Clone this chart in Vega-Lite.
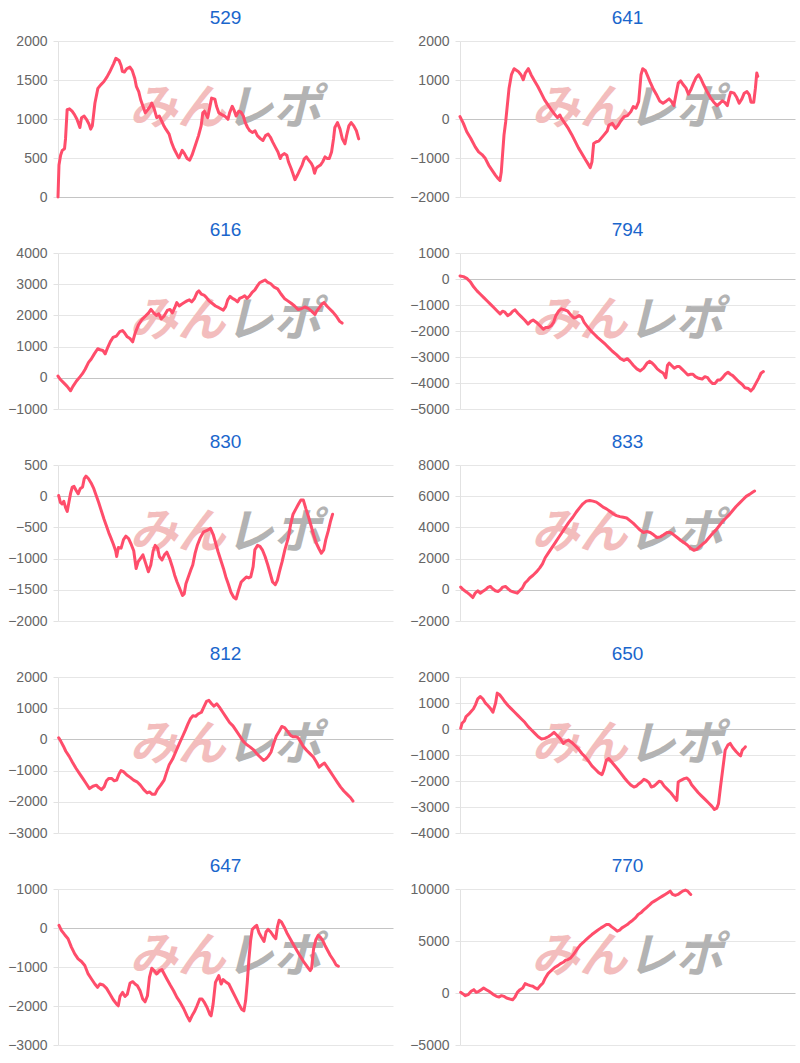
{
"$schema": "https://vega.github.io/schema/vega-lite/v6.json",
"background": "white",
"padding": {"left": 7, "top": 9, "right": 5, "bottom": 5},
"columns": 2,
"spacing": {"row": 17, "column": 16},
"config": {
  "view": {"stroke": null},
  "font": "Liberation Sans",
  "title": {"fontSize": 19, "fontWeight": "normal", "color": "#1a66cc", "offset": 6, "font": "Liberation Sans"},
  "axisY": {"labelFontSize": 14, "labelColor": "#666666", "labelFont": "Liberation Sans", "domainColor": "#e2e2e2", "tickColor": "#e2e2e2", "tickSize": 5, "labelPadding": 6, "title": null, "format": "d", "grid": true},
  "line": {"color": "#ff4d6b", "strokeWidth": 3, "strokeJoin": "round", "strokeCap": "round"},
  "text": {"font": "Noto Sans CJK JP", "fontSize": 48, "fontWeight": "bold", "fontStyle": "italic", "baseline": "middle"}
},
"datasets": {
"p529": [{"t":0,"v":0},{"t":3,"v":410},{"t":8,"v":536},{"t":13,"v":598},{"t":20,"v":619},{"t":23,"v":745},{"t":28,"v":1121},{"t":35,"v":1130},{"t":43,"v":1100},{"t":50,"v":1059},{"t":58,"v":996},{"t":67,"v":891},{"t":72,"v":1017},{"t":80,"v":1038},{"t":87,"v":996},{"t":95,"v":933},{"t":100,"v":870},{"t":105,"v":912},{"t":113,"v":1205},{"t":122,"v":1393},{"t":130,"v":1435},{"t":140,"v":1477},{"t":150,"v":1540},{"t":158,"v":1602},{"t":170,"v":1707},{"t":177,"v":1778},{"t":187,"v":1749},{"t":193,"v":1686},{"t":197,"v":1611},{"t":203,"v":1602},{"t":210,"v":1644},{"t":220,"v":1665},{"t":227,"v":1623},{"t":235,"v":1519},{"t":240,"v":1414},{"t":247,"v":1351},{"t":253,"v":1247},{"t":260,"v":1163},{"t":267,"v":1079},{"t":275,"v":1121},{"t":282,"v":1163},{"t":287,"v":1205},{"t":295,"v":1121},{"t":302,"v":1017},{"t":310,"v":1038},{"t":317,"v":975},{"t":323,"v":920},{"t":330,"v":870},{"t":340,"v":807},{"t":347,"v":703},{"t":355,"v":619},{"t":365,"v":536},{"t":370,"v":502},{"t":380,"v":598},{"t":387,"v":556},{"t":395,"v":494},{"t":403,"v":473},{"t":410,"v":536},{"t":420,"v":661},{"t":430,"v":787},{"t":438,"v":912},{"t":443,"v":1079},{"t":448,"v":1100},{"t":453,"v":1059},{"t":458,"v":1017},{"t":470,"v":1268},{"t":480,"v":1255},{"t":485,"v":1163},{"t":492,"v":1079},{"t":500,"v":1059},{"t":510,"v":1038},{"t":520,"v":996},{"t":525,"v":1079},{"t":533,"v":1163},{"t":538,"v":1121},{"t":545,"v":1038},{"t":553,"v":1100},{"t":560,"v":1088},{"t":567,"v":1038},{"t":573,"v":954},{"t":580,"v":891},{"t":587,"v":849},{"t":595,"v":828},{"t":603,"v":849},{"t":610,"v":787},{"t":620,"v":745},{"t":627,"v":724},{"t":635,"v":787},{"t":643,"v":807},{"t":650,"v":766},{"t":657,"v":703},{"t":665,"v":640},{"t":673,"v":577},{"t":680,"v":494},{"t":685,"v":536},{"t":693,"v":556},{"t":700,"v":536},{"t":705,"v":452},{"t":713,"v":368},{"t":720,"v":285},{"t":725,"v":222},{"t":733,"v":285},{"t":740,"v":347},{"t":747,"v":410},{"t":753,"v":485},{"t":760,"v":515},{"t":767,"v":473},{"t":775,"v":431},{"t":780,"v":389},{"t":785,"v":305},{"t":790,"v":368},{"t":795,"v":389},{"t":803,"v":410},{"t":810,"v":452},{"t":817,"v":515},{"t":823,"v":494},{"t":830,"v":494},{"t":837,"v":577},{"t":843,"v":745},{"t":847,"v":891},{"t":855,"v":954},{"t":863,"v":870},{"t":870,"v":745},{"t":878,"v":682},{"t":883,"v":787},{"t":890,"v":912},{"t":897,"v":954},{"t":905,"v":912},{"t":913,"v":849},{"t":920,"v":745}],
"p641": [{"t":0,"v":60},{"t":10,"v":-112},{"t":20,"v":-327},{"t":32,"v":-499},{"t":45,"v":-714},{"t":55,"v":-843},{"t":65,"v":-912},{"t":75,"v":-1015},{"t":85,"v":-1187},{"t":97,"v":-1342},{"t":105,"v":-1445},{"t":113,"v":-1531},{"t":118,"v":-1574},{"t":122,"v":-1359},{"t":130,"v":-413},{"t":135,"v":-69},{"t":145,"v":791},{"t":152,"v":1135},{"t":160,"v":1290},{"t":172,"v":1221},{"t":180,"v":1135},{"t":187,"v":1006},{"t":193,"v":1178},{"t":202,"v":1290},{"t":210,"v":1135},{"t":220,"v":980},{"t":230,"v":834},{"t":240,"v":662},{"t":250,"v":490},{"t":260,"v":361},{"t":270,"v":232},{"t":280,"v":120},{"t":288,"v":34},{"t":295,"v":103},{"t":300,"v":17},{"t":310,"v":-112},{"t":320,"v":-241},{"t":330,"v":-396},{"t":340,"v":-568},{"t":350,"v":-740},{"t":360,"v":-886},{"t":370,"v":-1032},{"t":378,"v":-1144},{"t":385,"v":-1247},{"t":390,"v":-1101},{"t":395,"v":-628},{"t":403,"v":-585},{"t":410,"v":-568},{"t":415,"v":-516},{"t":425,"v":-413},{"t":435,"v":-310},{"t":440,"v":-155},{"t":450,"v":-112},{"t":460,"v":-241},{"t":468,"v":-155},{"t":475,"v":-52},{"t":485,"v":60},{"t":495,"v":86},{"t":505,"v":189},{"t":512,"v":318},{"t":520,"v":275},{"t":528,"v":447},{"t":535,"v":1135},{"t":540,"v":1290},{"t":548,"v":1238},{"t":555,"v":1092},{"t":562,"v":946},{"t":570,"v":791},{"t":580,"v":636},{"t":590,"v":464},{"t":600,"v":404},{"t":610,"v":464},{"t":618,"v":516},{"t":625,"v":447},{"t":632,"v":344},{"t":638,"v":619},{"t":645,"v":920},{"t":652,"v":980},{"t":660,"v":877},{"t":668,"v":791},{"t":675,"v":636},{"t":682,"v":748},{"t":690,"v":920},{"t":698,"v":1066},{"t":705,"v":1135},{"t":712,"v":1032},{"t":720,"v":877},{"t":730,"v":705},{"t":740,"v":550},{"t":750,"v":430},{"t":760,"v":344},{"t":768,"v":404},{"t":775,"v":464},{"t":782,"v":430},{"t":790,"v":344},{"t":795,"v":533},{"t":800,"v":688},{"t":810,"v":662},{"t":818,"v":550},{"t":825,"v":404},{"t":833,"v":516},{"t":840,"v":662},{"t":848,"v":705},{"t":855,"v":619},{"t":860,"v":430},{"t":868,"v":430},{"t":873,"v":791},{"t":877,"v":1178},{"t":880,"v":1092}],
"p616": [{"t":0,"v":55},{"t":7,"v":-55},{"t":17,"v":-164},{"t":27,"v":-274},{"t":37,"v":-416},{"t":44,"v":-274},{"t":54,"v":-110},{"t":64,"v":22},{"t":72,"v":132},{"t":80,"v":274},{"t":90,"v":493},{"t":98,"v":603},{"t":107,"v":767},{"t":117,"v":932},{"t":124,"v":899},{"t":132,"v":877},{"t":139,"v":767},{"t":147,"v":986},{"t":154,"v":1151},{"t":162,"v":1293},{"t":172,"v":1337},{"t":182,"v":1480},{"t":190,"v":1513},{"t":197,"v":1425},{"t":204,"v":1315},{"t":212,"v":1260},{"t":220,"v":1151},{"t":227,"v":1425},{"t":237,"v":1699},{"t":247,"v":1863},{"t":257,"v":1973},{"t":267,"v":2082},{"t":274,"v":2192},{"t":282,"v":2082},{"t":290,"v":1995},{"t":297,"v":2050},{"t":304,"v":1885},{"t":312,"v":1973},{"t":322,"v":2159},{"t":330,"v":2192},{"t":337,"v":2082},{"t":344,"v":2247},{"t":350,"v":2411},{"t":357,"v":2302},{"t":364,"v":2356},{"t":372,"v":2411},{"t":380,"v":2466},{"t":387,"v":2499},{"t":394,"v":2433},{"t":402,"v":2543},{"t":410,"v":2740},{"t":415,"v":2784},{"t":422,"v":2685},{"t":430,"v":2652},{"t":437,"v":2576},{"t":445,"v":2466},{"t":454,"v":2389},{"t":464,"v":2302},{"t":474,"v":2247},{"t":487,"v":2170},{"t":494,"v":2280},{"t":500,"v":2499},{"t":507,"v":2609},{"t":514,"v":2543},{"t":522,"v":2499},{"t":529,"v":2433},{"t":535,"v":2543},{"t":542,"v":2576},{"t":550,"v":2630},{"t":557,"v":2543},{"t":565,"v":2630},{"t":572,"v":2740},{"t":580,"v":2817},{"t":587,"v":2937},{"t":594,"v":3047},{"t":602,"v":3091},{"t":610,"v":3135},{"t":617,"v":3069},{"t":627,"v":3014},{"t":637,"v":2904},{"t":647,"v":2850},{"t":657,"v":2685},{"t":667,"v":2543},{"t":677,"v":2466},{"t":687,"v":2389},{"t":697,"v":2302},{"t":707,"v":2192},{"t":717,"v":2214},{"t":727,"v":2269},{"t":737,"v":2225},{"t":747,"v":2137},{"t":757,"v":2028},{"t":762,"v":2137},{"t":770,"v":2247},{"t":777,"v":2356},{"t":784,"v":2411},{"t":792,"v":2302},{"t":800,"v":2214},{"t":810,"v":2104},{"t":820,"v":1973},{"t":830,"v":1808},{"t":837,"v":1754}],
"p794": [{"t":0,"v":117},{"t":10,"v":91},{"t":20,"v":26},{"t":30,"v":-104},{"t":40,"v":-300},{"t":50,"v":-456},{"t":60,"v":-587},{"t":70,"v":-717},{"t":80,"v":-848},{"t":90,"v":-978},{"t":100,"v":-1108},{"t":110,"v":-1239},{"t":118,"v":-1343},{"t":125,"v":-1239},{"t":132,"v":-1278},{"t":140,"v":-1408},{"t":148,"v":-1343},{"t":155,"v":-1239},{"t":162,"v":-1187},{"t":170,"v":-1317},{"t":180,"v":-1447},{"t":190,"v":-1578},{"t":200,"v":-1734},{"t":208,"v":-1630},{"t":215,"v":-1578},{"t":225,"v":-1669},{"t":235,"v":-1800},{"t":245,"v":-1930},{"t":252,"v":-1865},{"t":260,"v":-1865},{"t":268,"v":-1800},{"t":275,"v":-1669},{"t":282,"v":-1408},{"t":290,"v":-1239},{"t":298,"v":-1148},{"t":308,"v":-1187},{"t":317,"v":-1239},{"t":325,"v":-1369},{"t":335,"v":-1500},{"t":342,"v":-1474},{"t":350,"v":-1408},{"t":358,"v":-1474},{"t":365,"v":-1669},{"t":375,"v":-1839},{"t":385,"v":-1995},{"t":395,"v":-2126},{"t":405,"v":-2256},{"t":417,"v":-2386},{"t":428,"v":-2517},{"t":438,"v":-2647},{"t":448,"v":-2778},{"t":460,"v":-2908},{"t":472,"v":-3064},{"t":482,"v":-3130},{"t":492,"v":-3064},{"t":500,"v":-3169},{"t":510,"v":-3325},{"t":520,"v":-3456},{"t":530,"v":-3534},{"t":540,"v":-3430},{"t":550,"v":-3234},{"t":558,"v":-3169},{"t":565,"v":-3234},{"t":572,"v":-3325},{"t":580,"v":-3456},{"t":590,"v":-3560},{"t":598,"v":-3625},{"t":605,"v":-3795},{"t":610,"v":-3325},{"t":615,"v":-3234},{"t":622,"v":-3325},{"t":630,"v":-3430},{"t":638,"v":-3364},{"t":645,"v":-3364},{"t":652,"v":-3456},{"t":660,"v":-3560},{"t":670,"v":-3690},{"t":678,"v":-3664},{"t":685,"v":-3664},{"t":692,"v":-3756},{"t":702,"v":-3821},{"t":712,"v":-3847},{"t":720,"v":-3756},{"t":728,"v":-3795},{"t":735,"v":-3925},{"t":742,"v":-4016},{"t":750,"v":-4016},{"t":758,"v":-3886},{"t":765,"v":-3886},{"t":772,"v":-3795},{"t":780,"v":-3664},{"t":788,"v":-3586},{"t":795,"v":-3664},{"t":802,"v":-3717},{"t":810,"v":-3821},{"t":820,"v":-3951},{"t":830,"v":-4056},{"t":838,"v":-4186},{"t":848,"v":-4212},{"t":855,"v":-4303},{"t":862,"v":-4212},{"t":870,"v":-4016},{"t":878,"v":-3821},{"t":885,"v":-3625},{"t":892,"v":-3560}],
"p830": [{"t":2,"v":11},{"t":7,"v":-98},{"t":12,"v":-125},{"t":17,"v":-82},{"t":22,"v":-179},{"t":27,"v":-245},{"t":32,"v":-98},{"t":37,"v":49},{"t":42,"v":147},{"t":47,"v":158},{"t":52,"v":103},{"t":59,"v":38},{"t":65,"v":120},{"t":72,"v":147},{"t":77,"v":283},{"t":82,"v":321},{"t":89,"v":283},{"t":97,"v":212},{"t":105,"v":120},{"t":112,"v":11},{"t":119,"v":-98},{"t":127,"v":-234},{"t":135,"v":-370},{"t":142,"v":-478},{"t":149,"v":-587},{"t":155,"v":-668},{"t":162,"v":-766},{"t":169,"v":-875},{"t":172,"v":-967},{"t":177,"v":-821},{"t":185,"v":-832},{"t":192,"v":-696},{"t":199,"v":-641},{"t":207,"v":-679},{"t":215,"v":-777},{"t":222,"v":-875},{"t":229,"v":-1158},{"t":235,"v":-1049},{"t":242,"v":-995},{"t":249,"v":-940},{"t":257,"v":-1076},{"t":265,"v":-1212},{"t":272,"v":-1103},{"t":279,"v":-875},{"t":285,"v":-788},{"t":292,"v":-832},{"t":297,"v":-967},{"t":305,"v":-1022},{"t":312,"v":-940},{"t":319,"v":-897},{"t":327,"v":-995},{"t":335,"v":-1130},{"t":342,"v":-1266},{"t":349,"v":-1375},{"t":357,"v":-1484},{"t":365,"v":-1592},{"t":370,"v":-1565},{"t":375,"v":-1402},{"t":382,"v":-1294},{"t":389,"v":-1185},{"t":395,"v":-1103},{"t":402,"v":-913},{"t":409,"v":-777},{"t":417,"v":-668},{"t":427,"v":-571},{"t":437,"v":-549},{"t":447,"v":-516},{"t":455,"v":-614},{"t":462,"v":-750},{"t":469,"v":-886},{"t":477,"v":-1022},{"t":485,"v":-1158},{"t":492,"v":-1294},{"t":499,"v":-1402},{"t":507,"v":-1538},{"t":515,"v":-1620},{"t":522,"v":-1647},{"t":529,"v":-1511},{"t":537,"v":-1375},{"t":545,"v":-1332},{"t":552,"v":-1294},{"t":559,"v":-1310},{"t":565,"v":-1294},{"t":572,"v":-1130},{"t":577,"v":-859},{"t":585,"v":-788},{"t":592,"v":-804},{"t":599,"v":-859},{"t":607,"v":-967},{"t":615,"v":-1103},{"t":622,"v":-1239},{"t":629,"v":-1375},{"t":637,"v":-1419},{"t":643,"v":-1348},{"t":649,"v":-1212},{"t":657,"v":-1049},{"t":665,"v":-859},{"t":675,"v":-668},{"t":682,"v":-451},{"t":689,"v":-288},{"t":697,"v":-207},{"t":705,"v":-125},{"t":712,"v":-60},{"t":719,"v":-60},{"t":727,"v":-207},{"t":735,"v":-342},{"t":742,"v":-478},{"t":749,"v":-614},{"t":757,"v":-750},{"t":765,"v":-842},{"t":772,"v":-913},{"t":779,"v":-859},{"t":785,"v":-696},{"t":792,"v":-560},{"t":799,"v":-397},{"t":805,"v":-288}],
"p833": [{"t":2,"v":173},{"t":10,"v":0},{"t":20,"v":-151},{"t":30,"v":-324},{"t":38,"v":-497},{"t":45,"v":-216},{"t":53,"v":-65},{"t":60,"v":-216},{"t":67,"v":-108},{"t":75,"v":0},{"t":83,"v":151},{"t":90,"v":216},{"t":97,"v":65},{"t":105,"v":-65},{"t":113,"v":-108},{"t":120,"v":0},{"t":127,"v":173},{"t":135,"v":216},{"t":143,"v":65},{"t":150,"v":-65},{"t":160,"v":-151},{"t":170,"v":-216},{"t":177,"v":-65},{"t":185,"v":108},{"t":193,"v":432},{"t":200,"v":584},{"t":207,"v":757},{"t":217,"v":930},{"t":227,"v":1146},{"t":237,"v":1405},{"t":245,"v":1665},{"t":253,"v":2054},{"t":263,"v":2378},{"t":273,"v":2702},{"t":283,"v":3027},{"t":293,"v":3351},{"t":303,"v":3675},{"t":313,"v":4000},{"t":323,"v":4324},{"t":335,"v":4648},{"t":345,"v":4973},{"t":355,"v":5254},{"t":365,"v":5513},{"t":375,"v":5686},{"t":385,"v":5729},{"t":395,"v":5686},{"t":405,"v":5621},{"t":415,"v":5470},{"t":425,"v":5297},{"t":435,"v":5189},{"t":445,"v":5037},{"t":455,"v":4865},{"t":465,"v":4756},{"t":475,"v":4692},{"t":485,"v":4648},{"t":495,"v":4605},{"t":505,"v":4432},{"t":515,"v":4259},{"t":525,"v":4043},{"t":535,"v":3827},{"t":545,"v":3675},{"t":555,"v":3740},{"t":565,"v":3675},{"t":575,"v":3524},{"t":585,"v":3351},{"t":595,"v":3394},{"t":605,"v":3524},{"t":615,"v":3675},{"t":625,"v":3675},{"t":635,"v":3524},{"t":645,"v":3351},{"t":655,"v":3178},{"t":665,"v":3027},{"t":675,"v":2875},{"t":685,"v":2659},{"t":695,"v":2529},{"t":703,"v":2594},{"t":711,"v":2746},{"t":720,"v":2919},{"t":730,"v":3092},{"t":740,"v":3351},{"t":750,"v":3610},{"t":760,"v":3827},{"t":770,"v":4108},{"t":780,"v":4389},{"t":790,"v":4605},{"t":800,"v":4821},{"t":810,"v":5081},{"t":820,"v":5340},{"t":830,"v":5556},{"t":840,"v":5773},{"t":850,"v":5989},{"t":860,"v":6118},{"t":870,"v":6270},{"t":875,"v":6335}],
"p812": [{"t":2,"v":54},{"t":8,"v":-54},{"t":16,"v":-217},{"t":23,"v":-380},{"t":33,"v":-544},{"t":43,"v":-739},{"t":53,"v":-924},{"t":63,"v":-1087},{"t":73,"v":-1250},{"t":83,"v":-1413},{"t":93,"v":-1576},{"t":103,"v":-1500},{"t":113,"v":-1467},{"t":120,"v":-1544},{"t":128,"v":-1609},{"t":136,"v":-1522},{"t":143,"v":-1326},{"t":150,"v":-1250},{"t":158,"v":-1250},{"t":166,"v":-1326},{"t":173,"v":-1304},{"t":180,"v":-1109},{"t":186,"v":-1000},{"t":193,"v":-1033},{"t":203,"v":-1141},{"t":213,"v":-1217},{"t":223,"v":-1304},{"t":233,"v":-1359},{"t":243,"v":-1467},{"t":253,"v":-1609},{"t":263,"v":-1717},{"t":270,"v":-1685},{"t":278,"v":-1761},{"t":286,"v":-1761},{"t":293,"v":-1609},{"t":303,"v":-1467},{"t":313,"v":-1304},{"t":320,"v":-1065},{"t":328,"v":-815},{"t":338,"v":-630},{"t":348,"v":-380},{"t":358,"v":-130},{"t":368,"v":109},{"t":376,"v":304},{"t":383,"v":489},{"t":390,"v":652},{"t":398,"v":761},{"t":406,"v":739},{"t":413,"v":815},{"t":423,"v":870},{"t":430,"v":1033},{"t":438,"v":1217},{"t":445,"v":1250},{"t":453,"v":1141},{"t":460,"v":1065},{"t":468,"v":1141},{"t":476,"v":1033},{"t":486,"v":870},{"t":496,"v":707},{"t":506,"v":543},{"t":516,"v":435},{"t":526,"v":272},{"t":536,"v":109},{"t":546,"v":-54},{"t":556,"v":-163},{"t":566,"v":-239},{"t":576,"v":-326},{"t":586,"v":-457},{"t":596,"v":-565},{"t":606,"v":-674},{"t":613,"v":-630},{"t":620,"v":-544},{"t":628,"v":-413},{"t":636,"v":-130},{"t":644,"v":109},{"t":653,"v":272},{"t":660,"v":413},{"t":668,"v":380},{"t":676,"v":272},{"t":686,"v":130},{"t":693,"v":87},{"t":700,"v":87},{"t":708,"v":54},{"t":716,"v":-87},{"t":723,"v":-217},{"t":733,"v":-348},{"t":743,"v":-457},{"t":753,"v":-565},{"t":763,"v":-739},{"t":770,"v":-891},{"t":778,"v":-815},{"t":786,"v":-761},{"t":793,"v":-870},{"t":803,"v":-1033},{"t":813,"v":-1196},{"t":823,"v":-1359},{"t":833,"v":-1522},{"t":843,"v":-1652},{"t":853,"v":-1761},{"t":863,"v":-1870},{"t":870,"v":-1978}],
"p650": [{"t":2,"v":26},{"t":6,"v":219},{"t":13,"v":310},{"t":18,"v":477},{"t":26,"v":568},{"t":33,"v":671},{"t":40,"v":774},{"t":46,"v":929},{"t":53,"v":1161},{"t":60,"v":1251},{"t":68,"v":1161},{"t":76,"v":993},{"t":83,"v":903},{"t":90,"v":800},{"t":98,"v":645},{"t":106,"v":993},{"t":111,"v":1380},{"t":118,"v":1316},{"t":126,"v":1187},{"t":133,"v":1058},{"t":143,"v":903},{"t":153,"v":774},{"t":163,"v":645},{"t":173,"v":516},{"t":183,"v":387},{"t":193,"v":258},{"t":203,"v":90},{"t":213,"v":-39},{"t":223,"v":-168},{"t":233,"v":-297},{"t":243,"v":-387},{"t":253,"v":-361},{"t":263,"v":-297},{"t":273,"v":-206},{"t":280,"v":-129},{"t":288,"v":-232},{"t":298,"v":-361},{"t":308,"v":-555},{"t":316,"v":-464},{"t":323,"v":-426},{"t":333,"v":-516},{"t":343,"v":-645},{"t":353,"v":-774},{"t":363,"v":-942},{"t":373,"v":-1071},{"t":383,"v":-1238},{"t":393,"v":-1419},{"t":403,"v":-1548},{"t":413,"v":-1677},{"t":423,"v":-1754},{"t":428,"v":-1587},{"t":436,"v":-1200},{"t":443,"v":-1135},{"t":450,"v":-1238},{"t":460,"v":-1393},{"t":470,"v":-1548},{"t":480,"v":-1716},{"t":490,"v":-1883},{"t":500,"v":-2038},{"t":510,"v":-2167},{"t":518,"v":-2232},{"t":526,"v":-2193},{"t":533,"v":-2103},{"t":540,"v":-2038},{"t":548,"v":-1935},{"t":555,"v":-1974},{"t":563,"v":-2064},{"t":570,"v":-2232},{"t":578,"v":-2193},{"t":586,"v":-2103},{"t":593,"v":-2012},{"t":600,"v":-2038},{"t":608,"v":-2193},{"t":618,"v":-2322},{"t":628,"v":-2451},{"t":638,"v":-2619},{"t":646,"v":-2748},{"t":650,"v":-2038},{"t":658,"v":-1974},{"t":668,"v":-1909},{"t":676,"v":-1883},{"t":683,"v":-1974},{"t":690,"v":-2141},{"t":700,"v":-2296},{"t":710,"v":-2451},{"t":720,"v":-2580},{"t":730,"v":-2709},{"t":740,"v":-2838},{"t":750,"v":-2967},{"t":758,"v":-3096},{"t":765,"v":-3044},{"t":770,"v":-2877},{"t":776,"v":-2232},{"t":783,"v":-1522},{"t":790,"v":-813},{"t":798,"v":-619},{"t":805,"v":-555},{"t":813,"v":-722},{"t":823,"v":-877},{"t":831,"v":-980},{"t":836,"v":-1032},{"t":841,"v":-813},{"t":848,"v":-722},{"t":850,"v":-684}],
"p647": [{"t":3,"v":69},{"t":10,"v":-60},{"t":20,"v":-172},{"t":30,"v":-275},{"t":40,"v":-490},{"t":50,"v":-662},{"t":60,"v":-791},{"t":70,"v":-860},{"t":80,"v":-963},{"t":90,"v":-1178},{"t":100,"v":-1307},{"t":110,"v":-1436},{"t":118,"v":-1522},{"t":125,"v":-1436},{"t":135,"v":-1462},{"t":145,"v":-1548},{"t":155,"v":-1694},{"t":165,"v":-1840},{"t":175,"v":-1952},{"t":180,"v":-1995},{"t":185,"v":-1754},{"t":193,"v":-1651},{"t":200,"v":-1754},{"t":207,"v":-1694},{"t":215,"v":-1410},{"t":223,"v":-1376},{"t":230,"v":-1436},{"t":237,"v":-1479},{"t":245,"v":-1608},{"t":253,"v":-1823},{"t":260,"v":-1892},{"t":267,"v":-1737},{"t":273,"v":-1264},{"t":280,"v":-1032},{"t":287,"v":-1092},{"t":295,"v":-1178},{"t":303,"v":-1092},{"t":310,"v":-1066},{"t":317,"v":-1178},{"t":325,"v":-1307},{"t":335,"v":-1462},{"t":345,"v":-1608},{"t":355,"v":-1780},{"t":365,"v":-1909},{"t":375,"v":-2064},{"t":385,"v":-2253},{"t":393,"v":-2382},{"t":400,"v":-2253},{"t":407,"v":-2150},{"t":415,"v":-1995},{"t":423,"v":-1823},{"t":430,"v":-1823},{"t":437,"v":-1909},{"t":445,"v":-2038},{"t":453,"v":-2210},{"t":457,"v":-2253},{"t":463,"v":-1952},{"t":470,"v":-1393},{"t":480,"v":-1221},{"t":487,"v":-1436},{"t":493,"v":-1324},{"t":500,"v":-1376},{"t":510,"v":-1436},{"t":520,"v":-1608},{"t":530,"v":-1780},{"t":540,"v":-1952},{"t":548,"v":-2081},{"t":555,"v":-2124},{"t":560,"v":-1866},{"t":565,"v":-1393},{"t":570,"v":-791},{"t":575,"v":-318},{"t":580,"v":-34},{"t":587,"v":26},{"t":593,"v":69},{"t":600,"v":-120},{"t":607,"v":-232},{"t":615,"v":-344},{"t":621,"v":-103},{"t":627,"v":-34},{"t":635,"v":-103},{"t":643,"v":-206},{"t":650,"v":-275},{"t":655,"v":26},{"t":660,"v":198},{"t":667,"v":155},{"t":675,"v":26},{"t":683,"v":-120},{"t":693,"v":-275},{"t":703,"v":-430},{"t":713,"v":-576},{"t":723,"v":-722},{"t":733,"v":-860},{"t":743,"v":-980},{"t":753,"v":-1092},{"t":757,"v":-1032},{"t":763,"v":-533},{"t":770,"v":-292},{"t":777,"v":-189},{"t":783,"v":-232},{"t":790,"v":-318},{"t":797,"v":-447},{"t":805,"v":-576},{"t":813,"v":-705},{"t":823,"v":-834},{"t":830,"v":-946},{"t":837,"v":-980}],
"p770": [{"t":2,"v":64},{"t":8,"v":-64},{"t":16,"v":-257},{"t":24,"v":-161},{"t":33,"v":161},{"t":41,"v":321},{"t":48,"v":64},{"t":56,"v":161},{"t":63,"v":321},{"t":70,"v":482},{"t":78,"v":321},{"t":86,"v":161},{"t":93,"v":0},{"t":100,"v":-161},{"t":108,"v":-321},{"t":116,"v":-385},{"t":123,"v":-257},{"t":130,"v":-321},{"t":138,"v":-482},{"t":148,"v":-578},{"t":156,"v":-642},{"t":163,"v":-385},{"t":170,"v":64},{"t":178,"v":321},{"t":186,"v":482},{"t":193,"v":899},{"t":200,"v":803},{"t":208,"v":707},{"t":216,"v":642},{"t":223,"v":482},{"t":230,"v":385},{"t":238,"v":707},{"t":246,"v":964},{"t":253,"v":1445},{"t":261,"v":1863},{"t":268,"v":2088},{"t":276,"v":2313},{"t":283,"v":2505},{"t":290,"v":2634},{"t":298,"v":2827},{"t":306,"v":2955},{"t":313,"v":3148},{"t":320,"v":3212},{"t":328,"v":3373},{"t":336,"v":3694},{"t":343,"v":4015},{"t":350,"v":4336},{"t":358,"v":4657},{"t":366,"v":4882},{"t":374,"v":5139},{"t":383,"v":5396},{"t":391,"v":5621},{"t":400,"v":5846},{"t":408,"v":6039},{"t":418,"v":6263},{"t":426,"v":6424},{"t":434,"v":6585},{"t":442,"v":6585},{"t":450,"v":6360},{"t":458,"v":6167},{"t":466,"v":5942},{"t":473,"v":6039},{"t":480,"v":6263},{"t":488,"v":6424},{"t":496,"v":6585},{"t":504,"v":6809},{"t":512,"v":7002},{"t":520,"v":7227},{"t":528,"v":7548},{"t":536,"v":7709},{"t":544,"v":7966},{"t":552,"v":8191},{"t":560,"v":8415},{"t":568,"v":8672},{"t":576,"v":8833},{"t":584,"v":8994},{"t":592,"v":9154},{"t":600,"v":9315},{"t":608,"v":9475},{"t":616,"v":9636},{"t":623,"v":9797},{"t":630,"v":9475},{"t":638,"v":9379},{"t":646,"v":9475},{"t":653,"v":9636},{"t":660,"v":9797},{"t":668,"v":9893},{"t":675,"v":9797},{"t":681,"v":9572},{"t":684,"v":9475}]
},
"concat": [
{"title": "529", "width": 335, "height": 156, "layer": [
 {"data": {"values": [{}]}, "mark": {"type": "text", "text": "みん", "align": "right", "color": "#f3bdbd"}, "encoding": {"x": {"datum": 512, "type": "quantitative", "scale": {"domain": [0, 1025], "nice": false}, "axis": null}, "y": {"datum": 1120, "type": "quantitative", "scale": {"domain": [0, 2000], "nice": false}, "axis": {"values": [0, 500, 1000, 1500, 2000], "title": null, "gridColor": {"condition": {"test": "datum.value === 0", "value": "#c4c4c4"}, "value": "#e6e6e6"}}}}},
 {"data": {"values": [{}]}, "mark": {"type": "text", "text": "レポ", "align": "left", "color": "#b3b3b3"}, "encoding": {"x": {"datum": 512, "type": "quantitative", "scale": {"domain": [0, 1025], "nice": false}, "axis": null}, "y": {"datum": 1120, "type": "quantitative", "scale": {"domain": [0, 2000], "nice": false}, "axis": {"values": [0, 500, 1000, 1500, 2000], "title": null, "gridColor": {"condition": {"test": "datum.value === 0", "value": "#c4c4c4"}, "value": "#e6e6e6"}}}}},
 {"data": {"name": "p529"}, "mark": "line", "encoding": {"x": {"field": "t", "type": "quantitative", "scale": {"domain": [0, 1025], "nice": false}, "axis": null}, "y": {"field": "v", "type": "quantitative", "scale": {"domain": [0, 2000], "nice": false}, "axis": {"values": [0, 500, 1000, 1500, 2000], "title": null, "gridColor": {"condition": {"test": "datum.value === 0", "value": "#c4c4c4"}, "value": "#e6e6e6"}}}}}
]},
{"title": "641", "width": 335, "height": 156, "layer": [
 {"data": {"values": [{}]}, "mark": {"type": "text", "text": "みん", "align": "right", "color": "#f3bdbd"}, "encoding": {"x": {"datum": 495, "type": "quantitative", "scale": {"domain": [0, 990], "nice": false}, "axis": null}, "y": {"datum": 240, "type": "quantitative", "scale": {"domain": [-2000, 2000], "nice": false}, "axis": {"values": [-2000, -1000, 0, 1000, 2000], "title": null, "gridColor": {"condition": {"test": "datum.value === 0", "value": "#c4c4c4"}, "value": "#e6e6e6"}}}}},
 {"data": {"values": [{}]}, "mark": {"type": "text", "text": "レポ", "align": "left", "color": "#b3b3b3"}, "encoding": {"x": {"datum": 495, "type": "quantitative", "scale": {"domain": [0, 990], "nice": false}, "axis": null}, "y": {"datum": 240, "type": "quantitative", "scale": {"domain": [-2000, 2000], "nice": false}, "axis": {"values": [-2000, -1000, 0, 1000, 2000], "title": null, "gridColor": {"condition": {"test": "datum.value === 0", "value": "#c4c4c4"}, "value": "#e6e6e6"}}}}},
 {"data": {"name": "p641"}, "mark": "line", "encoding": {"x": {"field": "t", "type": "quantitative", "scale": {"domain": [0, 990], "nice": false}, "axis": null}, "y": {"field": "v", "type": "quantitative", "scale": {"domain": [-2000, 2000], "nice": false}, "axis": {"values": [-2000, -1000, 0, 1000, 2000], "title": null, "gridColor": {"condition": {"test": "datum.value === 0", "value": "#c4c4c4"}, "value": "#e6e6e6"}}}}}
]},
{"title": "616", "width": 335, "height": 156, "layer": [
 {"data": {"values": [{}]}, "mark": {"type": "text", "text": "みん", "align": "right", "color": "#f3bdbd"}, "encoding": {"x": {"datum": 493, "type": "quantitative", "scale": {"domain": [0, 987], "nice": false}, "axis": null}, "y": {"datum": 1800, "type": "quantitative", "scale": {"domain": [-1000, 4000], "nice": false}, "axis": {"values": [-1000, 0, 1000, 2000, 3000, 4000], "title": null, "gridColor": {"condition": {"test": "datum.value === 0", "value": "#c4c4c4"}, "value": "#e6e6e6"}}}}},
 {"data": {"values": [{}]}, "mark": {"type": "text", "text": "レポ", "align": "left", "color": "#b3b3b3"}, "encoding": {"x": {"datum": 493, "type": "quantitative", "scale": {"domain": [0, 987], "nice": false}, "axis": null}, "y": {"datum": 1800, "type": "quantitative", "scale": {"domain": [-1000, 4000], "nice": false}, "axis": {"values": [-1000, 0, 1000, 2000, 3000, 4000], "title": null, "gridColor": {"condition": {"test": "datum.value === 0", "value": "#c4c4c4"}, "value": "#e6e6e6"}}}}},
 {"data": {"name": "p616"}, "mark": "line", "encoding": {"x": {"field": "t", "type": "quantitative", "scale": {"domain": [0, 987], "nice": false}, "axis": null}, "y": {"field": "v", "type": "quantitative", "scale": {"domain": [-1000, 4000], "nice": false}, "axis": {"values": [-1000, 0, 1000, 2000, 3000, 4000], "title": null, "gridColor": {"condition": {"test": "datum.value === 0", "value": "#c4c4c4"}, "value": "#e6e6e6"}}}}}
]},
{"title": "794", "width": 335, "height": 156, "layer": [
 {"data": {"values": [{}]}, "mark": {"type": "text", "text": "みん", "align": "right", "color": "#f3bdbd"}, "encoding": {"x": {"datum": 492, "type": "quantitative", "scale": {"domain": [0, 985], "nice": false}, "axis": null}, "y": {"datum": -1640, "type": "quantitative", "scale": {"domain": [-5000, 1000], "nice": false}, "axis": {"values": [-5000, -4000, -3000, -2000, -1000, 0, 1000], "title": null, "gridColor": {"condition": {"test": "datum.value === 0", "value": "#c4c4c4"}, "value": "#e6e6e6"}}}}},
 {"data": {"values": [{}]}, "mark": {"type": "text", "text": "レポ", "align": "left", "color": "#b3b3b3"}, "encoding": {"x": {"datum": 492, "type": "quantitative", "scale": {"domain": [0, 985], "nice": false}, "axis": null}, "y": {"datum": -1640, "type": "quantitative", "scale": {"domain": [-5000, 1000], "nice": false}, "axis": {"values": [-5000, -4000, -3000, -2000, -1000, 0, 1000], "title": null, "gridColor": {"condition": {"test": "datum.value === 0", "value": "#c4c4c4"}, "value": "#e6e6e6"}}}}},
 {"data": {"name": "p794"}, "mark": "line", "encoding": {"x": {"field": "t", "type": "quantitative", "scale": {"domain": [0, 985], "nice": false}, "axis": null}, "y": {"field": "v", "type": "quantitative", "scale": {"domain": [-5000, 1000], "nice": false}, "axis": {"values": [-5000, -4000, -3000, -2000, -1000, 0, 1000], "title": null, "gridColor": {"condition": {"test": "datum.value === 0", "value": "#c4c4c4"}, "value": "#e6e6e6"}}}}}
]},
{"title": "830", "width": 335, "height": 156, "layer": [
 {"data": {"values": [{}]}, "mark": {"type": "text", "text": "みん", "align": "right", "color": "#f3bdbd"}, "encoding": {"x": {"datum": 491, "type": "quantitative", "scale": {"domain": [0, 982], "nice": false}, "axis": null}, "y": {"datum": -600, "type": "quantitative", "scale": {"domain": [-2000, 500], "nice": false}, "axis": {"values": [-2000, -1500, -1000, -500, 0, 500], "title": null, "gridColor": {"condition": {"test": "datum.value === 0", "value": "#c4c4c4"}, "value": "#e6e6e6"}}}}},
 {"data": {"values": [{}]}, "mark": {"type": "text", "text": "レポ", "align": "left", "color": "#b3b3b3"}, "encoding": {"x": {"datum": 491, "type": "quantitative", "scale": {"domain": [0, 982], "nice": false}, "axis": null}, "y": {"datum": -600, "type": "quantitative", "scale": {"domain": [-2000, 500], "nice": false}, "axis": {"values": [-2000, -1500, -1000, -500, 0, 500], "title": null, "gridColor": {"condition": {"test": "datum.value === 0", "value": "#c4c4c4"}, "value": "#e6e6e6"}}}}},
 {"data": {"name": "p830"}, "mark": "line", "encoding": {"x": {"field": "t", "type": "quantitative", "scale": {"domain": [0, 982], "nice": false}, "axis": null}, "y": {"field": "v", "type": "quantitative", "scale": {"domain": [-2000, 500], "nice": false}, "axis": {"values": [-2000, -1500, -1000, -500, 0, 500], "title": null, "gridColor": {"condition": {"test": "datum.value === 0", "value": "#c4c4c4"}, "value": "#e6e6e6"}}}}}
]},
{"title": "833", "width": 335, "height": 156, "layer": [
 {"data": {"values": [{}]}, "mark": {"type": "text", "text": "みん", "align": "right", "color": "#f3bdbd"}, "encoding": {"x": {"datum": 497, "type": "quantitative", "scale": {"domain": [0, 995], "nice": false}, "axis": null}, "y": {"datum": 3600, "type": "quantitative", "scale": {"domain": [-2000, 8000], "nice": false}, "axis": {"values": [-2000, 0, 2000, 4000, 6000, 8000], "title": null, "gridColor": {"condition": {"test": "datum.value === 0", "value": "#c4c4c4"}, "value": "#e6e6e6"}}}}},
 {"data": {"values": [{}]}, "mark": {"type": "text", "text": "レポ", "align": "left", "color": "#b3b3b3"}, "encoding": {"x": {"datum": 497, "type": "quantitative", "scale": {"domain": [0, 995], "nice": false}, "axis": null}, "y": {"datum": 3600, "type": "quantitative", "scale": {"domain": [-2000, 8000], "nice": false}, "axis": {"values": [-2000, 0, 2000, 4000, 6000, 8000], "title": null, "gridColor": {"condition": {"test": "datum.value === 0", "value": "#c4c4c4"}, "value": "#e6e6e6"}}}}},
 {"data": {"name": "p833"}, "mark": "line", "encoding": {"x": {"field": "t", "type": "quantitative", "scale": {"domain": [0, 995], "nice": false}, "axis": null}, "y": {"field": "v", "type": "quantitative", "scale": {"domain": [-2000, 8000], "nice": false}, "axis": {"values": [-2000, 0, 2000, 4000, 6000, 8000], "title": null, "gridColor": {"condition": {"test": "datum.value === 0", "value": "#c4c4c4"}, "value": "#e6e6e6"}}}}}
]},
{"title": "812", "width": 335, "height": 156, "layer": [
 {"data": {"values": [{}]}, "mark": {"type": "text", "text": "みん", "align": "right", "color": "#f3bdbd"}, "encoding": {"x": {"datum": 494, "type": "quantitative", "scale": {"domain": [0, 988], "nice": false}, "axis": null}, "y": {"datum": -200, "type": "quantitative", "scale": {"domain": [-3000, 2000], "nice": false}, "axis": {"values": [-3000, -2000, -1000, 0, 1000, 2000], "title": null, "gridColor": {"condition": {"test": "datum.value === 0", "value": "#c4c4c4"}, "value": "#e6e6e6"}}}}},
 {"data": {"values": [{}]}, "mark": {"type": "text", "text": "レポ", "align": "left", "color": "#b3b3b3"}, "encoding": {"x": {"datum": 494, "type": "quantitative", "scale": {"domain": [0, 988], "nice": false}, "axis": null}, "y": {"datum": -200, "type": "quantitative", "scale": {"domain": [-3000, 2000], "nice": false}, "axis": {"values": [-3000, -2000, -1000, 0, 1000, 2000], "title": null, "gridColor": {"condition": {"test": "datum.value === 0", "value": "#c4c4c4"}, "value": "#e6e6e6"}}}}},
 {"data": {"name": "p812"}, "mark": "line", "encoding": {"x": {"field": "t", "type": "quantitative", "scale": {"domain": [0, 988], "nice": false}, "axis": null}, "y": {"field": "v", "type": "quantitative", "scale": {"domain": [-3000, 2000], "nice": false}, "axis": {"values": [-3000, -2000, -1000, 0, 1000, 2000], "title": null, "gridColor": {"condition": {"test": "datum.value === 0", "value": "#c4c4c4"}, "value": "#e6e6e6"}}}}}
]},
{"title": "650", "width": 335, "height": 156, "layer": [
 {"data": {"values": [{}]}, "mark": {"type": "text", "text": "みん", "align": "right", "color": "#f3bdbd"}, "encoding": {"x": {"datum": 499, "type": "quantitative", "scale": {"domain": [0, 998], "nice": false}, "axis": null}, "y": {"datum": -640, "type": "quantitative", "scale": {"domain": [-4000, 2000], "nice": false}, "axis": {"values": [-4000, -3000, -2000, -1000, 0, 1000, 2000], "title": null, "gridColor": {"condition": {"test": "datum.value === 0", "value": "#c4c4c4"}, "value": "#e6e6e6"}}}}},
 {"data": {"values": [{}]}, "mark": {"type": "text", "text": "レポ", "align": "left", "color": "#b3b3b3"}, "encoding": {"x": {"datum": 499, "type": "quantitative", "scale": {"domain": [0, 998], "nice": false}, "axis": null}, "y": {"datum": -640, "type": "quantitative", "scale": {"domain": [-4000, 2000], "nice": false}, "axis": {"values": [-4000, -3000, -2000, -1000, 0, 1000, 2000], "title": null, "gridColor": {"condition": {"test": "datum.value === 0", "value": "#c4c4c4"}, "value": "#e6e6e6"}}}}},
 {"data": {"name": "p650"}, "mark": "line", "encoding": {"x": {"field": "t", "type": "quantitative", "scale": {"domain": [0, 998], "nice": false}, "axis": null}, "y": {"field": "v", "type": "quantitative", "scale": {"domain": [-4000, 2000], "nice": false}, "axis": {"values": [-4000, -3000, -2000, -1000, 0, 1000, 2000], "title": null, "gridColor": {"condition": {"test": "datum.value === 0", "value": "#c4c4c4"}, "value": "#e6e6e6"}}}}}
]},
{"title": "647", "width": 335, "height": 156, "layer": [
 {"data": {"values": [{}]}, "mark": {"type": "text", "text": "みん", "align": "right", "color": "#f3bdbd"}, "encoding": {"x": {"datum": 500, "type": "quantitative", "scale": {"domain": [0, 1000], "nice": false}, "axis": null}, "y": {"datum": -760, "type": "quantitative", "scale": {"domain": [-3000, 1000], "nice": false}, "axis": {"values": [-3000, -2000, -1000, 0, 1000], "title": null, "gridColor": {"condition": {"test": "datum.value === 0", "value": "#c4c4c4"}, "value": "#e6e6e6"}}}}},
 {"data": {"values": [{}]}, "mark": {"type": "text", "text": "レポ", "align": "left", "color": "#b3b3b3"}, "encoding": {"x": {"datum": 500, "type": "quantitative", "scale": {"domain": [0, 1000], "nice": false}, "axis": null}, "y": {"datum": -760, "type": "quantitative", "scale": {"domain": [-3000, 1000], "nice": false}, "axis": {"values": [-3000, -2000, -1000, 0, 1000], "title": null, "gridColor": {"condition": {"test": "datum.value === 0", "value": "#c4c4c4"}, "value": "#e6e6e6"}}}}},
 {"data": {"name": "p647"}, "mark": "line", "encoding": {"x": {"field": "t", "type": "quantitative", "scale": {"domain": [0, 1000], "nice": false}, "axis": null}, "y": {"field": "v", "type": "quantitative", "scale": {"domain": [-3000, 1000], "nice": false}, "axis": {"values": [-3000, -2000, -1000, 0, 1000], "title": null, "gridColor": {"condition": {"test": "datum.value === 0", "value": "#c4c4c4"}, "value": "#e6e6e6"}}}}}
]},
{"title": "770", "width": 335, "height": 156, "layer": [
 {"data": {"values": [{}]}, "mark": {"type": "text", "text": "みん", "align": "right", "color": "#f3bdbd"}, "encoding": {"x": {"datum": 496, "type": "quantitative", "scale": {"domain": [0, 993], "nice": false}, "axis": null}, "y": {"datum": 3400, "type": "quantitative", "scale": {"domain": [-5000, 10000], "nice": false}, "axis": {"values": [-5000, 0, 5000, 10000], "title": null, "gridColor": {"condition": {"test": "datum.value === 0", "value": "#c4c4c4"}, "value": "#e6e6e6"}}}}},
 {"data": {"values": [{}]}, "mark": {"type": "text", "text": "レポ", "align": "left", "color": "#b3b3b3"}, "encoding": {"x": {"datum": 496, "type": "quantitative", "scale": {"domain": [0, 993], "nice": false}, "axis": null}, "y": {"datum": 3400, "type": "quantitative", "scale": {"domain": [-5000, 10000], "nice": false}, "axis": {"values": [-5000, 0, 5000, 10000], "title": null, "gridColor": {"condition": {"test": "datum.value === 0", "value": "#c4c4c4"}, "value": "#e6e6e6"}}}}},
 {"data": {"name": "p770"}, "mark": "line", "encoding": {"x": {"field": "t", "type": "quantitative", "scale": {"domain": [0, 993], "nice": false}, "axis": null}, "y": {"field": "v", "type": "quantitative", "scale": {"domain": [-5000, 10000], "nice": false}, "axis": {"values": [-5000, 0, 5000, 10000], "title": null, "gridColor": {"condition": {"test": "datum.value === 0", "value": "#c4c4c4"}, "value": "#e6e6e6"}}}}}
]}
]
}
